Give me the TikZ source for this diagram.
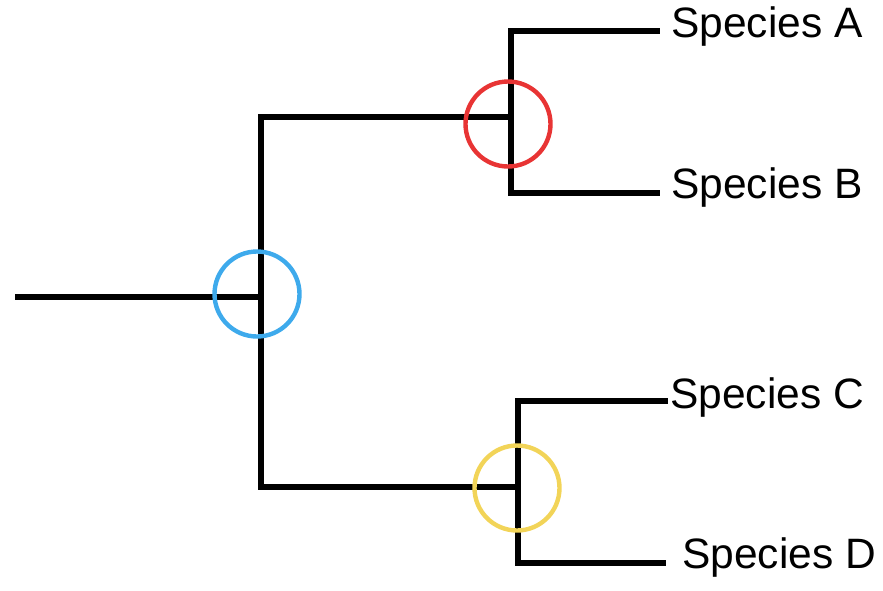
\documentclass[tikz,border=0pt]{standalone}
\usepackage{fontspec}
\setmainfont{Liberation Sans}

\definecolor{cladeblue}{RGB}{62,170,236}
\definecolor{cladered}{RGB}{232,52,52}
\definecolor{cladeyellow}{RGB}{242,212,88}

\begin{document}
\begin{tikzpicture}[x=1pt,y=-1pt]
  \tikzset{branch/.style={line width=5.2pt},
    clade/.style={circle,draw=#1,line width=4.4pt,minimum size=85pt,inner sep=0pt},
    leaf/.style={anchor=base west,inner sep=0pt,font=\fontsize{42.5pt}{50pt}\selectfont}}
  \useasboundingbox (0,0) rectangle (883,590);

  % inner nodes
  \coordinate (root) at (15,297);
  \coordinate (n0) at (261,297);
  \coordinate (nAB) at (511,117);
  \coordinate (nCD) at (518,487);

  % tips and species names
  \coordinate (tipA) at (660,31);
  \coordinate (tipB) at (660,193);
  \coordinate (tipC) at (668,401);
  \coordinate (tipD) at (666,563);

  \node[leaf] (spA) at (671,37) {Species A};
  \node[leaf] (spB) at (671,198) {Species B};
  \node[leaf] (spC) at (670,408) {Species C};
  \node[leaf] (spD) at (682,568) {Species D};

  % branches
  \draw[branch] (root) -- (n0);
  \draw[branch] (n0) |- (nAB);
  \draw[branch] (n0) |- (nCD);
  \draw[branch] (nAB) |- (tipA);
  \draw[branch] (nAB) |- (tipB);
  \draw[branch] (nCD) |- (tipC);
  \draw[branch] (nCD) |- (tipD);

  % clade markers
  \node[clade=cladeblue] (cRoot) at (257,294) {};
  \node[clade=cladered] (cAB) at (508,124) {};
  \node[clade=cladeyellow] (cCD) at (517,488) {};
\end{tikzpicture}
\end{document}
